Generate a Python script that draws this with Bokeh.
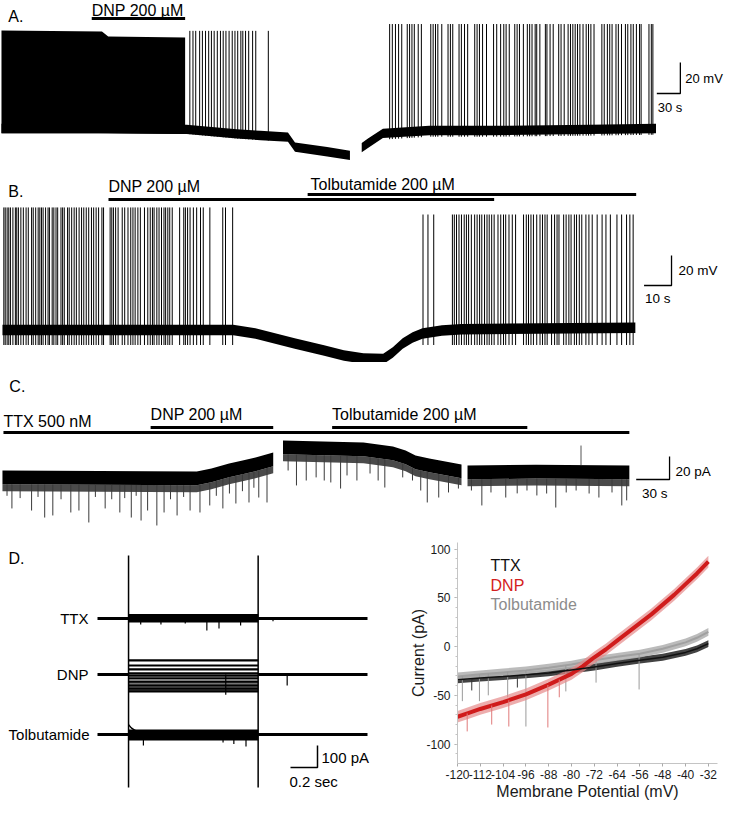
import numpy as np
from bokeh.plotting import figure
from bokeh.layouts import column, row
from bokeh.models import Label, FixedTicker
from bokeh.embed import file_html
from bokeh.resources import INLINE

FONT = "Liberation Sans"

# ======================= DATA =======================
# ---- Panel A: current clamp, DNP (time s, Vm mV) ----
A_block_t = [0, 128, 136, 234]            # unresolved dense firing: envelope of spike peaks
A_block_top = [3.2, 2.6, -0.6, -1.3]
A1_t = [0, 124, 236, 300, 330, 365, 374, 415, 444]
A1_v = [-60, -60, -60.5, -63.5, -64.5, -65.5, -72, -75, -77.4]
A2_t = [459, 467, 486, 545, 624, 749, 834]
A2_v = [-72.3, -69.5, -63.2, -61.3, -61.3, -60.6, -60]
A1_spikes = [240, 244, 247.5, 252.5, 256, 260, 264, 267.5, 271, 275, 279, 282.5, 286, 290,
             294, 297.5, 301, 305, 307.5, 311, 315, 320, 324, 340]
A2_spikes = [494.6, 498, 502, 506, 510, 517, 520, 523, 526, 531, 535, 547, 550, 553, 556, 561,
             569, 572, 575, 583, 586, 590, 594, 603, 606, 609, 613, 618, 627, 631, 636, 640,
             643, 647, 654, 657, 660, 665, 670, 673, 676, 680, 682, 686, 693, 695, 699, 703,
             710, 713, 717, 722, 725, 728, 731, 734, 737, 741, 745, 748, 751, 755, 765, 768,
             772, 775, 778, 783, 786, 790, 795, 798, 802, 805, 809, 813, 815, 825, 828, 830]
A1_peak = 3.0
A2_peak = 7.4
A_noise = 3.0
A_dnp = [115, 234]

# ---- Panel B: current clamp, DNP then tolbutamide (time s, Vm mV) ----
B_t = [0, 35, 84, 92.1, 106.4, 117.1, 124.3, 131.4, 138.6, 142.1, 145.7, 149.3, 152.9, 160, 167.1, 230.4]
B_v = [-61, -61, -61, -63.3, -70, -74.7, -78, -80, -80.3, -76, -70, -66, -63.3, -61.3, -60.5, -59.5]
B1_spikes = [0.5, 1.0, 1.7, 2.3, 2.9, 3.8, 4.7, 5.2, 5.8, 6.7, 7.6, 8.6, 9.4, 10.6, 11.2, 12.1,
             13.0, 13.6, 14.2, 14.8, 15.7, 16.6, 17.1, 18.1, 18.7, 19.5, 20.1, 21.3, 21.9, 22.5,
             23.7, 24.3, 25.2, 26.1, 26.9, 27.9, 28.8, 29.6, 30.5, 31.4, 32.4, 33.2, 34.1, 35.0,
             36.2, 36.8, 39.2, 39.8, 40.4, 41.2, 42.1, 43.6, 44.5, 45.7, 46.7, 47.5, 48.3, 49.3,
             50.2, 51.7, 52.9, 53.8, 54.6, 55.2, 56.2, 57.0, 57.9, 58.8, 59.4, 60.2, 60.9, 61.8,
             64.5, 66.0, 66.6, 67.4, 68.3, 69.5, 70.7, 72.1, 73.1, 75.5, 80.2, 81.2, 83.8]
B2_spikes = [153.1, 154.9, 157.0, 163.8, 164.5, 165.3, 166.2, 167.1, 168.1, 168.9, 169.7, 170.7,
             171.9, 172.8, 173.7, 174.5, 175.5, 176.4, 177.2, 178.1, 179.0, 180.4, 181.4, 182.4,
             183.2, 184.4, 185.6, 186.8, 189.7, 190.7, 191.5, 192.4, 193.3, 194.5, 195.7, 196.6,
             197.5, 198.3, 199.9, 201.0, 201.9, 202.6, 204.3, 205.2, 206.2, 207.0, 208.2, 209.0,
             210.0, 210.9, 212.4, 213.5, 214.7, 216.5, 218.3, 219.7, 221.3, 223.7, 225.4, 227.2,
             228.4, 229.6]
B1_peak = 20.7
B2_peak = 16.0
B_trough = -71.0
B_noise = 3.5
B_dnp = [38.6, 179.0]
B_tolb = [111.1, 230.7]

# ---- Panel C: voltage clamp in TTX (time s, current pA) ----
C1_t = [0, 174.8, 188, 203.9, 216, 227.7, 243.6]
C1_top = [-30, -30.9, -28.3, -23.9, -21.3, -18.7, -14.3]
C2_t = [252.4, 324.8, 351.3, 362.7, 371.6, 384, 413]
C2_top = [-3.9, -5.7, -9.1, -12.6, -17, -19.6, -24.8]
C3_t = [418.4, 480, 564]
C3_top = [-25.7, -25, -25.7]
C_band = 12.0
C_fringe = 6.0
C_ev_t = [4.1, 8.5, 15.9, 26.2, 32, 38, 45.3, 52.7, 61.5, 68.8, 77.7, 83.6, 92.4, 98.3, 105.6,
          110, 115.9, 120.3, 124.7, 130.6, 138.9, 145.4, 151.2, 157.1, 163, 168.8, 177.7, 186.5,
          192.4, 198.3, 204.2, 210, 215.9, 221.8, 226.2, 230.6, 238,
          257, 264.5, 273.3, 282.2, 289.5, 295.4, 304.2, 310, 318.9, 330.7, 338, 344, 360.1,
          368.9, 376.3, 382.2, 392.5, 401.3, 410.2,
          421.9, 431.3, 439.5, 452.8, 463.1, 471.9, 480.8, 489.6, 497.8, 507.2, 516.1, 527.8,
          536.6, 548.4, 557.2, 561.6]
C_ev_min = [-52, -63, -54, -64.8, -53, -70.9, -69.1, -55, -66.5, -64.8, -75.2, -53, -63, -55,
            -66.5, -54, -70.9, -52, -73.5, -64.8, -77.8, -66.5, -55, -69.1, -53, -64.8, -66.5,
            -60.4, -52, -63, -50, -58.7, -48, -57.8, -45, -53.5, -57.8,
            -30, -43, -38.7, -36, -38.7, -40.4, -45.7, -34.3, -38.7, -32.6, -38.7, -44.8, -36,
            -38.7, -47.4, -57.8, -53.5, -49.1, -45.7,
            -47.4, -60.4, -49.1, -53.5, -49.9, -47.4, -51.7, -50, -62.2, -49.1, -47.4, -50,
            -53.5, -49.1, -60.4, -56]
C_up_t = [520.5]
C_up_max = [-8.3]
C_ttx = [0.9, 564]
C_dnp = [133.3, 243.6]
C_tolb = [296.6, 472.2]

# ---- Panel D: voltage steps (time s, current pA) ----
D_t_end = 2.0
D_step = [0.23, 1.19]
D_ttx_band = [-18, 20]
D_dnp_levels = [64, 41, 23, 5, -5, -18, -32, -50, -64, -77]
D_tolb_band = [-27, 23]
D_tolb_tr_t = [0.23, 0.25, 0.28, 0.32, 0.36]
D_tolb_tr_i = [45, 30, 18, 8, 2]
D_ttx_ev_t = [0.32, 0.47, 0.65, 0.81, 0.90, 1.06, 1.30]
D_ttx_ev_i = [-27, -27, -23, -55, -45, -32, -12]
D_dnp_ev_t = [0.95, 1.405]
D_dnp_ev_i = [-92, -50]
D_tolb_ev_t = [0.34, 0.93, 1.01, 1.10]
D_tolb_ev_i = [-50, -36, -43, -54]
D_transient = [286, -768]

# ---- Panel E: I-V ramps (mV, pA) ----
E_V = [-120, -112, -104, -96, -88, -80, -72, -64, -56, -48, -40, -36, -32]
E_ttx = [-34, -32.3, -30.7, -29, -27, -24, -21, -17.3, -14, -11, -6, -2.3, 3]
E_tolb = [-30.7, -28.5, -26.5, -24.5, -21.7, -18.5, -14, -10.5, -7.3, -2.3, 4.3, 9, 15]
E_dnp_V = [-120, -116, -112, -104, -96, -88, -80, -76, -72, -68, -64, -60, -56, -52, -48, -44, -40, -36, -32]
E_dnp = [-72, -68, -64, -57, -49, -39, -28, -20, -11, -3, 6, 15, 24, 33, 43, 53, 64, 75, 87]
E_tolb_sp_V = [-118.3, -112.3, -109.2, -102.4, -96, -82, -71.4, -56.3]
E_tolb_sp_I = [-56, -56, -50, -52, -82, -46, -37, -44]
E_dnp_sp_V = [-116.6, -108, -102, -88.3, -84.3]
E_dnp_sp_I = [-87, -80, -82, -83, -52]
E_ttx_sp_V = [-115, -99]
E_ttx_sp_I = [-45, -42]
E_xticks = [-120, -112, -104, -96, -88, -80, -72, -64, -56, -48, -40, -32]
E_yticks = [-100, -50, 0, 50, 100]

# ======================= HELPERS =======================
XR = 738   # trace panels show the reference's full 0..738 px width

def bare(w, h, xr, yr):
    p = figure(width=w, height=h, x_range=xr, y_range=yr, x_axis_type=None, y_axis_type=None,
               toolbar_location=None, output_backend="svg", min_border=0, frame_align=False,
               outline_line_color=None, background_fill_color="white", border_fill_color="white")
    return p

def lab(p, x, y, text, size="16px", align="left", color="black"):
    p.add_layout(Label(x=x, y=y, text=text, text_font=FONT, text_font_size=size,
                       text_align=align, text_baseline="middle", text_color=color))

def scalebar(p, x0, y0, dx, dy, lw=1.3):
    p.line(x=[x0, x0 + dx, x0 + dx], y=[y0, y0, y0 + dy], line_color="black", line_width=lw)

K = "black"

# ======================= PANEL A =======================
tA = lambda x: (x - 1) / 0.8            # 0.8 px per s
vA = lambda y: -60 - (y - 128) / 1.55   # 1.55 px per mV
pA_ = bare(724, 166, (tA(0), tA(XR)), (vA(166), vA(0)))
a1t, a1v = np.array(A1_t, float), np.array(A1_v, float)
a2t, a2v = np.array(A2_t, float), np.array(A2_v, float)
pA_.varea(x=a1t, y1=a1v - A_noise, y2=a1v + A_noise, fill_color=K)
pA_.varea(x=a2t, y1=a2v - A_noise, y2=a2v + A_noise, fill_color=K)
bt = np.array(A_block_t, float)
pA_.varea(x=bt, y1=np.interp(bt, a1t, a1v) - A_noise, y2=A_block_top, fill_color=K)
s1 = np.array(A1_spikes, float)
pA_.segment(x0=s1, y0=np.interp(s1, a1t, a1v) - A_noise, x1=s1, y1=A1_peak, line_color=K, line_width=1)
s2 = np.array(A2_spikes, float)
pA_.segment(x0=s2, y0=np.interp(s2, a2t, a2v) - A_noise - 1, x1=s2, y1=A2_peak, line_color=K, line_width=1)
pA_.line(x=A_dnp, y=[vA(18)] * 2, line_color=K, line_width=3)
lab(pA_, tA(93), vA(9.5), "DNP 200 µM")
lab(pA_, tA(8), vA(16), "A.")
scalebar(pA_, tA(669), vA(93), 30, 20)
lab(pA_, tA(698), vA(78), "20 mV", size="13px")
lab(pA_, tA(670), vA(107), "30 s", size="13px")

# ======================= PANEL B =======================
tB = lambda x: (x - 2) / 2.8
vB = lambda y: -60 - (y - 328) / 1.5
pB = bare(724, 196, (tB(0), tB(XR)), (vB(362), vB(166)))
bt_, bv_ = np.array(B_t, float), np.array(B_v, float)
pB.varea(x=bt_, y1=bv_ - B_noise, y2=bv_ + B_noise, fill_color=K)
pB.segment(x0=B1_spikes, y0=B_trough, x1=B1_spikes, y1=B1_peak, line_color=K, line_width=1)
pB.segment(x0=B2_spikes, y0=B_trough, x1=B2_spikes, y1=B2_peak, line_color=K, line_width=1)
pB.line(x=B_dnp, y=[vB(199)] * 2, line_color=K, line_width=3)
pB.line(x=B_tolb, y=[vB(194)] * 2, line_color=K, line_width=3)
lab(pB, tB(110), vB(186), "DNP 200 µM")
lab(pB, tB(316), vB(184), "Tolbutamide 200 µM")
lab(pB, tB(8), vB(191), "B.")
scalebar(pB, tB(656), vB(285), 10, 20)
lab(pB, tB(691), vB(270), "20 mV", size="13.5px")
lab(pB, tB(657), vB(298), "10 s", size="13.5px")

# ======================= PANEL C =======================
tC = lambda x: (x - 2) / 1.133
iC = lambda y: -30 + (470 - y) / 1.15
pC = bare(724, 168, (tC(0), tC(XR)), (iC(530), iC(362)))
seg_t = [np.array(C1_t, float), np.array(C2_t, float), np.array(C3_t, float)]
seg_i = [np.array(C1_top, float), np.array(C2_top, float), np.array(C3_top, float)]
for st, si in zip(seg_t, seg_i):
    pC.varea(x=st, y1=si - C_band - C_fringe, y2=si - C_band, fill_color="#4a4a4a")
    pC.varea(x=st, y1=si - C_band, y2=si, fill_color=K)
ev_t = np.array(C_ev_t, float)
base = np.where(ev_t < 250, np.interp(ev_t, seg_t[0], seg_i[0]),
                np.where(ev_t < 416, np.interp(ev_t, seg_t[1], seg_i[1]), np.interp(ev_t, seg_t[2], seg_i[2])))
pC.segment(x0=ev_t, y0=base - C_band, x1=ev_t, y1=C_ev_min, line_color="#3a3a3a", line_width=1)
pC.segment(x0=C_up_t, y0=np.interp(C_up_t, seg_t[2], seg_i[2]), x1=C_up_t, y1=C_up_max,
           line_color="#555555", line_width=1)
pC.line(x=C_ttx, y=[iC(432)] * 2, line_color=K, line_width=3)
pC.line(x=C_dnp, y=[iC(427)] * 2, line_color=K, line_width=3)
pC.line(x=C_tolb, y=[iC(427)] * 2, line_color=K, line_width=3)
lab(pC, tC(3), iC(421), "TTX 500 nM")
lab(pC, tC(153), iC(414), "DNP 200 µM")
lab(pC, tC(338), iC(414), "Tolbutamide 200 µM")
lab(pC, tC(9), iC(386), "C.")
scalebar(pC, tC(648), iC(479), 30, 20)
lab(pC, tC(688), iC(471), "20 pA", size="13.5px")
lab(pC, tC(654), iC(493), "30 s", size="13.5px")

# ======================= PANEL D =======================
DE_TOP, DE_BOT = 538, 810     # reference rows shown by the bottom row
tD = lambda x: (x - 97) / 135
iD = lambda y: -(y - 626) / 0.22
pD = bare(393, DE_BOT - DE_TOP, (tD(0), tD(393)), (iD(DE_BOT), iD(DE_TOP)))
offs = {"ttx": 0.0, "dnp": iD(682), "tolb": iD(742)}
on, off = D_step
for o in offs.values():
    pD.line(x=[0, on], y=[o, o], line_color=K, line_width=3)
    pD.line(x=[off, D_t_end], y=[o, o], line_color=K, line_width=3)
o = offs["ttx"]
pD.varea(x=[on, off], y1=[o + D_ttx_band[0]] * 2, y2=[o + D_ttx_band[1]] * 2, fill_color=K)
pD.segment(x0=D_ttx_ev_t, y0=o, x1=D_ttx_ev_t, y1=[o + v for v in D_ttx_ev_i], line_color=K, line_width=1.2)
o = offs["dnp"]
for lv in D_dnp_levels:
    pD.line(x=[on, off], y=[o + lv, o + lv], line_color=K, line_width=2.2)
pD.varea(x=[on, off], y1=[o + D_dnp_levels[-1]] * 2, y2=[o + D_dnp_levels[-4]] * 2, fill_color=K, fill_alpha=0.55)
pD.segment(x0=D_dnp_ev_t, y0=o, x1=D_dnp_ev_t, y1=[o + v for v in D_dnp_ev_i], line_color=K, line_width=1.2)
o = offs["tolb"]
pD.varea(x=[on, off], y1=[o + D_tolb_band[0]] * 2, y2=[o + D_tolb_band[1]] * 2, fill_color=K)
pD.line(x=D_tolb_tr_t, y=[o + v for v in D_tolb_tr_i], line_color=K, line_width=1.5)
pD.segment(x0=D_tolb_ev_t, y0=o, x1=D_tolb_ev_t, y1=[o + v for v in D_tolb_ev_i], line_color=K, line_width=1.2)
pD.segment(x0=D_step, y0=D_transient[0], x1=D_step, y1=D_transient[1], line_color=K, line_width=1.5)
lab(pD, tD(88), offs["ttx"], "TTX", size="15px", align="right")
lab(pD, tD(88), offs["dnp"], "DNP", size="15px", align="right")
lab(pD, tD(89), offs["tolb"], "Tolbutamide", size="15px", align="right")
lab(pD, tD(8), iD(566), "D.")
scalebar(pD, tD(290), iD(775), 0.2, 100, lw=1.5)
lab(pD, tD(321), iD(765), "100 pA", size="15px")
lab(pD, tD(289), iD(789), "0.2 sec", size="15px")

# ======================= PANEL E =======================
E_left = 393
E_ftop, E_fbot = 550, 773      # frame rows in the reference
pE = figure(width=331, height=DE_BOT - DE_TOP,
            x_range=(-120, -28.8), y_range=(-(E_fbot - 655) / 0.984, (655 - E_ftop) / 0.984),
            toolbar_location=None, output_backend="svg", frame_align=False,
            min_border_left=457 - E_left, min_border_right=724 - 717,
            min_border_top=E_ftop - DE_TOP, min_border_bottom=DE_BOT - E_fbot,
            outline_line_color=None, background_fill_color="white", border_fill_color="white")
pE.grid.visible = False
pE.xaxis.ticker = FixedTicker(ticks=E_xticks)
pE.yaxis.ticker = FixedTicker(ticks=E_yticks, minor_ticks=list(range(-120, 110, 10)))
pE.xaxis.major_label_overrides = {v: str(v) for v in E_xticks}
pE.yaxis.major_label_overrides = {v: str(v) for v in E_yticks}
for ax in (pE.xaxis[0], pE.yaxis[0]):
    ax.axis_line_color = "#c4c4c4"
    ax.major_tick_line_color = "#aaaaaa"
    ax.major_tick_out = 3
    ax.major_tick_in = 0
    ax.minor_tick_line_color = "#c4c4c4"
    ax.minor_tick_out = 2
    ax.minor_tick_in = 0
    ax.major_label_text_font = FONT
    ax.major_label_text_font_size = "12px"
    ax.major_label_text_color = "#1a1a1a"
    ax.axis_label_text_font = FONT
    ax.axis_label_text_font_size = "16px"
    ax.axis_label_text_font_style = "normal"
    ax.axis_label_text_color = "#1a1a1a"
pE.xaxis.minor_tick_line_color = None
pE.xaxis.major_label_standoff = 3
pE.xaxis.axis_label_standoff = 1
pE.yaxis.major_label_standoff = 4
pE.yaxis.axis_label_standoff = -4
pE.xaxis.axis_label = "Membrane Potential (mV)"
pE.yaxis.axis_label = "Current (pA)"

ev = np.array(E_V, float)
tt, tg = np.array(E_ttx, float), np.array(E_tolb, float)
dv, di = np.array(E_dnp_V, float), np.array(E_dnp, float)
pE.varea(x=ev, y1=tt - 3.5, y2=tt + 3.5, fill_color="#222222", fill_alpha=0.85)
pE.segment(x0=E_ttx_sp_V, y0=np.interp(E_ttx_sp_V, ev, tt), x1=E_ttx_sp_V, y1=E_ttx_sp_I,
           line_color="#333333", line_width=1)
pE.varea(x=ev, y1=tg - 4, y2=tg + 4, fill_color="#b4b4b4", fill_alpha=0.9)
pE.line(x=ev, y=tg, line_color="#a0a0a0", line_width=2)
pE.segment(x0=E_tolb_sp_V, y0=np.interp(E_tolb_sp_V, ev, tg), x1=E_tolb_sp_V, y1=E_tolb_sp_I,
           line_color="#9a9a9a", line_width=1)
pE.varea(x=dv, y1=di - 6, y2=di + 6, fill_color="#e68a8a", fill_alpha=0.7)
pE.line(x=dv, y=di, line_color="#d01c1c", line_width=4)
pE.segment(x0=E_dnp_sp_V, y0=np.interp(E_dnp_sp_V, dv, di), x1=E_dnp_sp_V, y1=E_dnp_sp_I,
           line_color="#e07a7a", line_width=1)
pE.line(x=ev, y=tt, line_color="#111111", line_width=1.5)

for txt, col, yy in [("TTX", "#111111", 83.3), ("DNP", "#d42020", 63.0), ("Tolbutamide", "#8c8c8c", 42.7)]:
    pE.add_layout(Label(x=-108.4, y=yy, text=txt, text_font=FONT, text_font_size="16px",
                        text_baseline="middle", text_color=col))
pE.add_layout(Label(x=-140, y=89.4, text="E.", text_font=FONT, text_font_size="16px",
                    text_baseline="middle", text_color="black"))

layout = column(pA_, pB, pC, row(pD, pE))
open("out.html", "w").write(file_html(layout, INLINE))
